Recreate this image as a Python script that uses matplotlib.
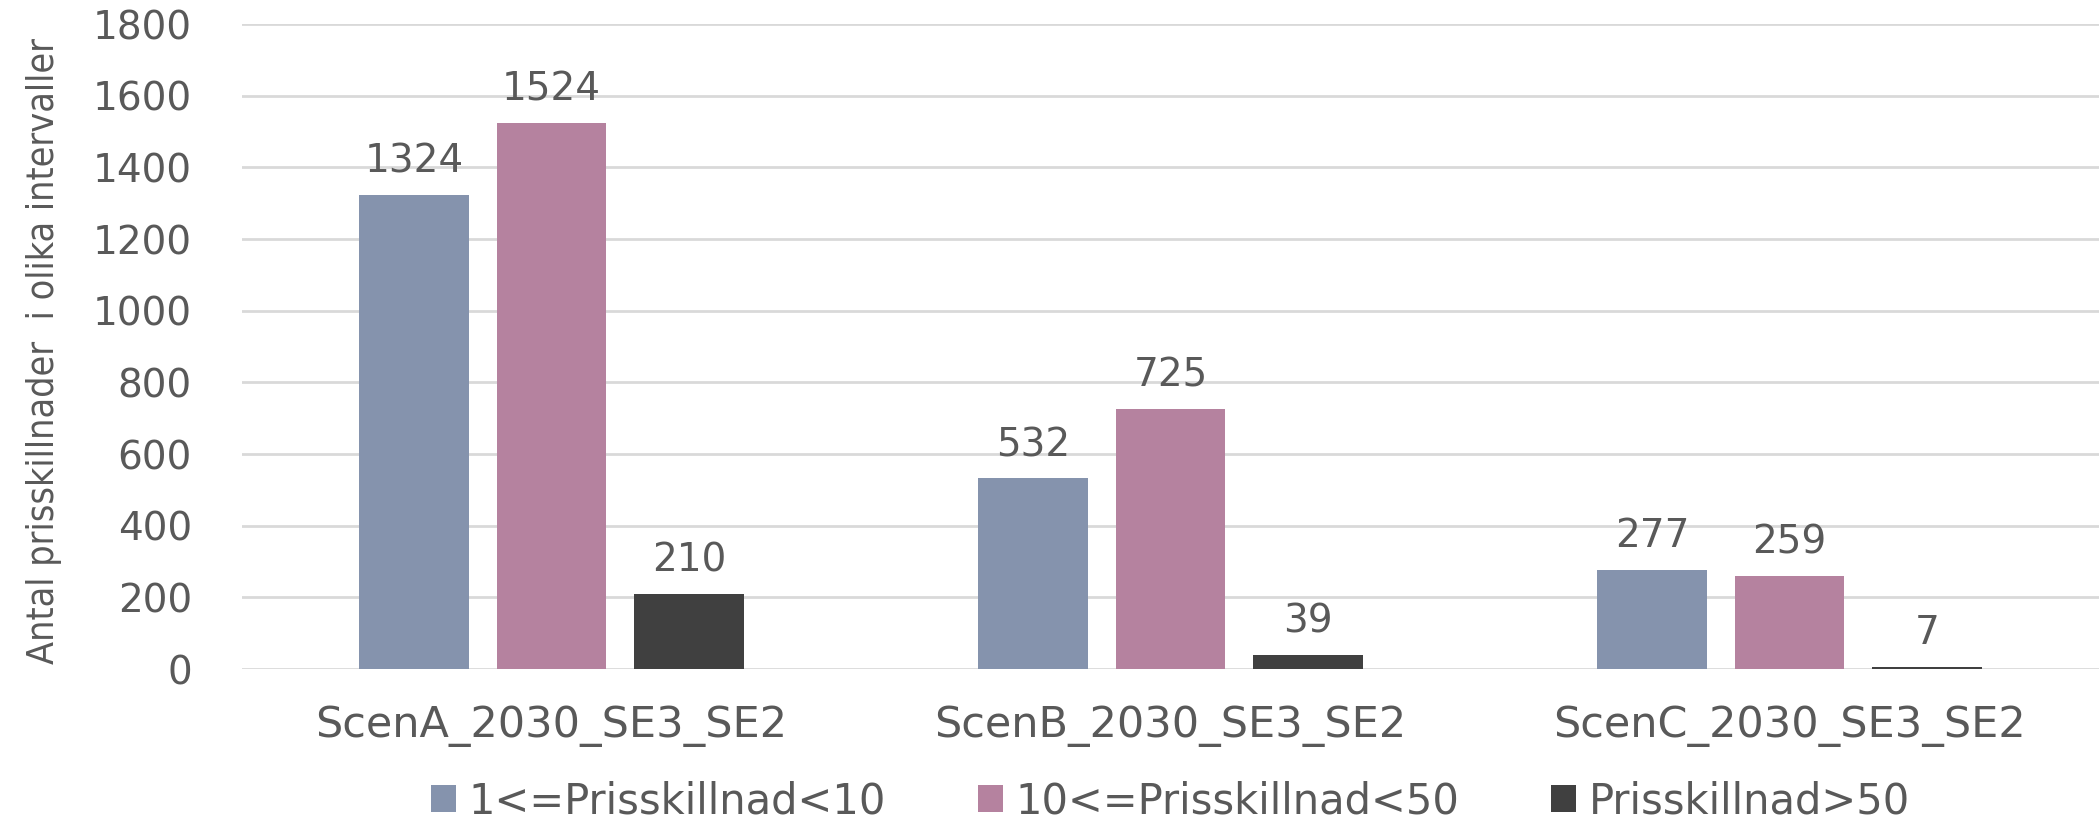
import numpy as np
import matplotlib.pyplot as plt

scenarios = ["ScenA_2030_SE3_SE2", "ScenB_2030_SE3_SE2", "ScenC_2030_SE3_SE2"]
series_names = ["1<=Prisskillnad<10", "10<=Prisskillnad<50", "Prisskillnad>50"]
low_diff = [1324, 532, 277]
mid_diff = [1524, 725, 259]
high_diff = [210, 39, 7]

colors = ["#8593ad", "#b5829f", "#404040"]
text_color = "#595959"

fig = plt.figure(figsize=(20.99, 8.22), dpi=100)
ax = fig.add_axes([0.1153, 0.1861, 0.8847, 0.7847])

x = np.arange(len(scenarios))
width = 0.177
offset = 0.222

for i, (vals, name) in enumerate(zip([low_diff, mid_diff, high_diff], series_names)):
    bars = ax.bar(x + (i - 1) * offset, vals, width, color=colors[i], label=name, zorder=3)
    for b, v in zip(bars, vals):
        ax.text(b.get_x() + b.get_width() / 2, v + 40, str(v),
                ha="center", va="bottom", fontsize=28, color=text_color)

ax.set_xlim(-0.5, 2.5)
ax.set_ylim(0, 1800)
ax.set_yticks(np.arange(0, 1801, 200))
ax.set_xticks(x)
ax.set_xticklabels(scenarios)
ax.tick_params(axis="both", length=0, labelsize=28, labelcolor=text_color)
ax.tick_params(axis="x", labelsize=31, pad=26)
ax.tick_params(axis="y", pad=36)

ax.grid(axis="y", color="#d9d9d9", linewidth=2, zorder=0)
for s in ax.spines.values():
    s.set_visible(False)

fig.text(0.021, 0.573, "Antal prisskillnader  i olika intervaller",
         rotation=90, ha="center", va="center", fontsize=27, fontstretch="condensed",
         family=["DejaVu Sans"], color=text_color)

ax.legend(loc="center", bbox_to_anchor=(0.5, -0.205), ncol=3, frameon=False,
          fontsize=30, labelcolor=text_color, handlelength=0.6, handleheight=0.6,
          handletextpad=0.3, columnspacing=2.2)

fig.savefig("out.png", dpi=100)
